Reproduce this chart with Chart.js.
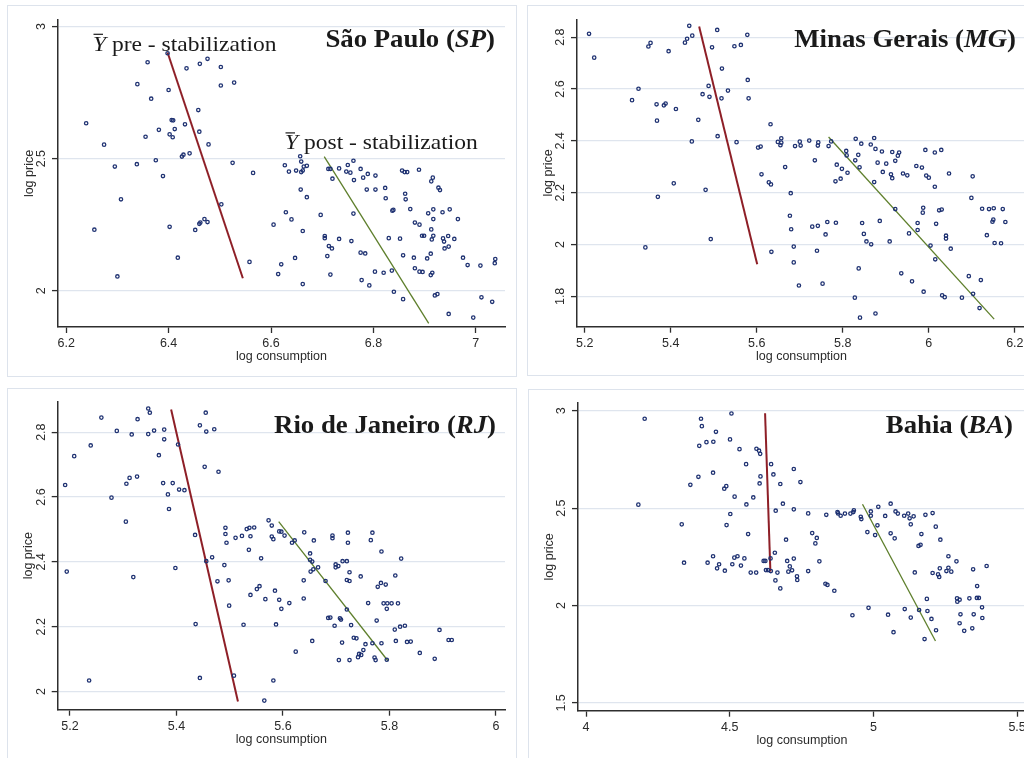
<!DOCTYPE html>
<html>
<head>
<meta charset="utf-8">
<script src="https://cdn.jsdelivr.net/npm/chart.js@4.4.1/dist/chart.umd.min.js"></script>
<style>
  body { margin: 0; background: #fff; width: 1024px; height: 758px; overflow: hidden; position: relative; }
  .box { position: absolute; border: 1px solid #dde3ec; box-sizing: border-box; }
  canvas { position: absolute; }
</style>
</head>
<body>
<div class="box" style="left:7px;top:5px;width:510px;height:372px"></div>
<div class="box" style="left:527px;top:5px;width:520px;height:371px"></div>
<div class="box" style="left:7px;top:388px;width:510px;height:400px"></div>
<div class="box" style="left:528px;top:389px;width:520px;height:400px"></div>
<script>
// ─── Data ─────────────────────────────────────────────────────────────────────

const spTicksX = [6.2, 6.4, 6.6, 6.8, 7];
const spTicksY = [2, 2.5, 3];
const mgTicksX = [5.2, 5.4, 5.6, 5.8, 6, 6.2];
const mgTicksY = [1.8, 2, 2.2, 2.4, 2.6, 2.8];
const rjTicksX = [5.2, 5.4, 5.6, 5.8, 6];
const rjTicksY = [2, 2.2, 2.4, 2.6, 2.8];
const baTicksX = [4, 4.5, 5, 5.5];
const baTicksY = [1.5, 2, 2.5, 3];

// mean fitted lines, pre / post stabilization
const spPre = [[6.398, 2.902], [6.545, 2.047]];
const spPost = [[6.704, 2.508], [6.908, 1.876]];
const mgPre = [[5.466, 2.841], [5.601, 1.924]];
const mgPost = [[5.767, 2.415], [6.152, 1.712]];
const rjPre = [[5.390, 2.870], [5.5155, 1.969]];
const rjPost = [[5.592, 2.524], [5.797, 2.095]];
const baPre = [[4.623, 2.987], [4.6415, 2.174]];
const baPost = [[4.962, 2.520], [5.216, 1.818]];

// [log consumption, log price]
const spPoints = [
  [6.239,2.634],[6.255,2.231],[6.274,2.553],[6.295,2.470],[6.307,2.346],[6.300,2.054],[6.339,2.782],[6.359,2.865],
  [6.366,2.727],[6.338,2.479],[6.355,2.583],[6.381,2.609],[6.375,2.494],[6.389,2.434],[6.398,2.899],[6.400,2.760],
  [6.402,2.592],[6.408,2.581],[6.406,2.646],[6.409,2.645],[6.412,2.612],[6.402,2.242],[6.418,2.125],[6.432,2.630],
  [6.426,2.508],[6.429,2.515],[6.441,2.520],[6.435,2.842],[6.452,2.230],[6.460,2.253],[6.462,2.258],[6.470,2.271],
  [6.476,2.260],[6.458,2.684],[6.460,2.602],[6.461,2.859],[6.476,2.878],[6.478,2.554],[6.502,2.847],[6.502,2.777],
  [6.503,2.327],[6.528,2.788],[6.525,2.484],[6.558,2.109],[6.565,2.446],[6.605,2.250],[6.620,2.100],[6.614,2.063],
  [6.629,2.297],[6.627,2.475],[6.635,2.451],[6.640,2.270],[6.647,2.124],[6.649,2.455],[6.657,2.509],[6.659,2.489],
  [6.659,2.449],[6.662,2.455],[6.658,2.383],[6.664,2.470],[6.670,2.473],[6.662,2.226],[6.670,2.354],[6.662,2.025],
  [6.697,2.287],[6.705,2.207],[6.705,2.199],[6.712,2.461],[6.716,2.461],[6.720,2.424],[6.710,2.131],[6.713,2.169],
  [6.719,2.160],[6.716,2.061],[6.733,2.196],[6.733,2.463],[6.747,2.451],[6.750,2.476],[6.755,2.447],[6.762,2.419],
  [6.761,2.492],[6.761,2.292],[6.757,2.188],[6.775,2.461],[6.780,2.428],[6.789,2.442],[6.787,2.383],[6.775,2.144],
  [6.784,2.141],[6.777,2.040],[6.792,2.020],[6.804,2.436],[6.804,2.383],[6.823,2.389],[6.824,2.350],[6.803,2.072],
  [6.820,2.068],[6.830,2.199],[6.837,2.303],[6.839,2.306],[6.836,2.076],[6.840,1.996],[6.852,2.197],[6.856,2.455],
  [6.861,2.449],[6.866,2.449],[6.862,2.367],[6.863,2.346],[6.872,2.309],[6.858,2.134],[6.858,1.968],[6.881,2.258],
  [6.890,2.250],[6.889,2.458],[6.879,2.125],[6.881,2.085],[6.890,2.072],[6.896,2.071],[6.895,2.208],[6.899,2.208],
  [6.905,2.122],[6.907,2.293],[6.913,2.414],[6.916,2.428],[6.917,2.308],[6.917,2.271],[6.913,2.232],[6.917,2.208],
  [6.914,2.194],[6.912,2.140],[6.915,2.068],[6.912,2.059],[6.920,1.982],[6.925,1.987],[6.927,2.390],[6.930,2.381],
  [6.935,2.297],[6.936,2.198],[6.938,2.186],[6.939,2.160],[6.946,2.207],[6.947,2.167],[6.949,2.308],[6.947,1.912],
  [6.958,2.196],[6.965,2.271],[6.975,2.125],[6.984,2.097],[6.995,1.898],[7.009,2.095],[7.011,1.975],[7.032,1.958],
  [7.038,2.120],[7.037,2.104]
];

const mgPoints = [
  [5.210,2.813],[5.222,2.721],[5.310,2.557],[5.325,2.601],[5.341,1.989],[5.348,2.764],[5.353,2.778],[5.367,2.541],
  [5.368,2.478],[5.370,2.184],[5.384,2.537],[5.388,2.544],[5.395,2.746],[5.407,2.236],[5.412,2.523],[5.433,2.779],
  [5.438,2.794],[5.443,2.844],[5.450,2.806],[5.449,2.398],[5.464,2.481],[5.474,2.580],[5.481,2.211],[5.488,2.612],
  [5.490,2.570],[5.493,2.021],[5.496,2.761],[5.508,2.828],[5.509,2.418],[5.518,2.564],[5.519,2.679],[5.533,2.594],
  [5.548,2.765],[5.553,2.395],[5.563,2.770],[5.578,2.809],[5.579,2.635],[5.581,2.564],[5.603,2.374],[5.609,2.378],
  [5.611,2.271],[5.628,2.240],[5.633,2.232],[5.632,2.464],[5.634,1.972],[5.649,2.396],[5.655,2.383],[5.657,2.393],
  [5.657,2.410],[5.666,2.299],[5.679,2.198],[5.677,2.111],[5.680,2.059],[5.686,1.992],[5.686,1.931],[5.689,2.380],
  [5.700,2.397],[5.702,2.382],[5.698,1.842],[5.722,2.401],[5.729,2.069],[5.735,2.325],[5.742,2.072],[5.742,2.382],
  [5.743,2.394],[5.740,1.976],[5.753,1.849],[5.760,2.039],[5.764,2.087],[5.767,2.380],[5.773,2.398],[5.783,2.244],
  [5.786,2.308],[5.795,2.254],[5.798,2.292],[5.808,2.361],[5.809,2.344],[5.811,2.277],[5.784,2.084],[5.829,2.325],
  [5.830,2.408],[5.828,1.795],[5.836,2.346],[5.837,1.908],[5.839,2.298],[5.840,1.718],[5.843,2.389],[5.845,2.083],
  [5.849,2.041],[5.855,2.012],[5.865,2.386],[5.866,2.001],[5.873,2.411],[5.876,2.369],[5.873,2.241],[5.876,1.734],
  [5.881,2.316],[5.886,2.091],[5.891,2.359],[5.893,2.280],[5.901,2.312],[5.909,2.012],[5.912,2.271],[5.915,2.357],
  [5.915,2.256],[5.922,2.137],[5.922,2.323],[5.928,2.343],[5.931,2.355],[5.936,1.889],[5.940,2.274],[5.950,2.267],
  [5.954,2.043],[5.961,1.858],[5.971,2.303],[5.974,2.083],[5.974,2.056],[5.984,2.297],[5.987,2.142],[5.986,2.123],
  [5.988,1.818],[5.992,2.365],[5.994,2.266],[6.000,2.258],[6.004,1.996],[6.014,2.355],[6.014,2.223],[6.015,1.943],
  [6.017,2.080],[6.024,2.132],[6.029,2.365],[6.030,2.135],[6.031,1.804],[6.037,1.797],[6.040,2.034],[6.040,2.023],
  [6.047,2.274],[6.051,1.984],[6.077,1.795],[6.093,1.878],[6.099,2.180],[6.102,2.263],[6.103,1.810],[6.118,1.755],
  [6.121,1.863],[6.124,2.138],[6.135,2.036],[6.140,2.137],[6.148,2.088],[6.150,2.096],[6.151,2.140],[6.153,2.006],
  [6.168,2.005],[6.172,2.137],[6.178,2.087]
];

const rjPoints = [
  [5.191,2.637],[5.194,2.370],[5.208,2.726],[5.236,2.034],[5.239,2.759],[5.259,2.845],[5.278,2.598],[5.288,2.804],
  [5.305,2.524],[5.306,2.641],[5.312,2.659],[5.316,2.793],[5.319,2.353],[5.326,2.663],[5.327,2.840],[5.347,2.794],
  [5.347,2.873],[5.350,2.860],[5.358,2.805],[5.367,2.729],[5.375,2.643],[5.377,2.808],[5.377,2.778],[5.384,2.608],
  [5.386,2.563],[5.393,2.643],[5.398,2.381],[5.403,2.762],[5.405,2.623],[5.415,2.621],[5.435,2.483],[5.436,2.208],
  [5.444,2.821],[5.444,2.042],[5.453,2.693],[5.455,2.860],[5.456,2.802],[5.456,2.402],[5.467,2.414],[5.471,2.809],
  [5.477,2.340],[5.479,2.678],[5.490,2.390],[5.492,2.505],[5.492,2.486],[5.494,2.459],[5.498,2.343],[5.499,2.265],
  [5.508,2.049],[5.511,2.474],[5.523,2.480],[5.526,2.206],[5.532,2.501],[5.536,2.437],[5.537,2.505],[5.539,2.479],
  [5.539,2.298],[5.546,2.506],[5.551,2.316],[5.556,2.325],[5.559,2.411],[5.565,1.972],[5.567,2.285],[5.573,2.528],
  [5.579,2.512],[5.579,2.478],[5.582,2.470],[5.582,2.034],[5.585,2.311],[5.587,2.207],[5.593,2.494],[5.597,2.493],
  [5.593,2.283],[5.597,2.255],[5.603,2.481],[5.612,2.273],[5.617,2.459],[5.622,2.466],[5.624,2.123],[5.640,2.491],
  [5.639,2.343],[5.639,2.287],[5.651,2.426],[5.651,2.406],[5.652,2.370],[5.655,2.401],[5.658,2.466],[5.657,2.377],
  [5.655,2.156],[5.666,2.383],[5.680,2.341],[5.685,2.227],[5.689,2.228],[5.693,2.481],[5.693,2.473],[5.697,2.203],
  [5.699,2.392],[5.699,2.383],[5.704,2.387],[5.705,2.097],[5.707,2.226],[5.709,2.222],[5.711,2.151],[5.712,2.402],
  [5.720,2.402],[5.720,2.344],[5.720,2.253],[5.722,2.490],[5.722,2.459],[5.725,2.341],[5.725,2.097],[5.725,2.368],
  [5.728,2.205],[5.733,2.166],[5.738,2.164],[5.741,2.106],[5.743,2.116],[5.746,2.355],[5.747,2.113],[5.751,2.128],
  [5.755,2.146],[5.760,2.273],[5.765,2.467],[5.768,2.490],[5.768,2.149],[5.772,2.105],[5.774,2.097],[5.776,2.219],
  [5.778,2.323],[5.784,2.335],[5.785,2.432],[5.785,2.149],[5.789,2.272],[5.793,2.330],[5.795,2.255],[5.795,2.098],
  [5.796,2.272],[5.804,2.272],[5.810,2.191],[5.811,2.358],[5.812,2.156],[5.816,2.272],[5.820,2.200],[5.822,2.410],
  [5.829,2.203],[5.833,2.153],[5.840,2.154],[5.857,2.119],[5.885,2.101],[5.894,2.190],[5.911,2.159],[5.917,2.159]
];

const baPoints = [
  [4.182,2.518],[4.204,2.959],[4.333,2.417],[4.341,2.220],[4.363,2.620],[4.391,2.661],[4.394,2.820],[4.400,2.959],
  [4.403,2.921],[4.419,2.839],[4.423,2.220],[4.442,2.253],[4.442,2.682],[4.443,2.841],[4.452,2.892],[4.456,2.191],
  [4.463,2.212],[4.483,2.179],[4.481,2.600],[4.488,2.613],[4.489,2.413],[4.501,2.853],[4.502,2.470],[4.506,2.986],
  [4.509,2.212],[4.517,2.559],[4.516,2.246],[4.527,2.253],[4.534,2.803],[4.539,2.205],[4.551,2.242],[4.557,2.726],
  [4.558,2.519],[4.564,2.367],[4.573,2.169],[4.582,2.555],[4.592,2.169],[4.593,2.805],[4.602,2.795],[4.606,2.779],
  [4.604,2.627],[4.607,2.663],[4.618,2.229],[4.624,2.229],[4.626,2.182],[4.633,2.182],[4.644,2.726],[4.642,2.242],
  [4.643,2.177],[4.652,2.673],[4.657,2.271],[4.659,2.129],[4.660,2.487],[4.666,2.169],[4.676,2.624],[4.676,2.088],
  [4.685,2.523],[4.696,2.338],[4.700,2.229],[4.704,2.174],[4.709,2.201],[4.717,2.181],[4.723,2.701],[4.723,2.494],
  [4.723,2.241],[4.734,2.150],[4.735,2.131],[4.746,2.634],[4.773,2.473],[4.773,2.177],[4.787,2.372],[4.798,2.319],
  [4.803,2.347],[4.812,2.227],[4.833,2.112],[4.840,2.106],[4.836,2.466],[4.864,2.076],[4.875,2.480],[4.877,2.473],
  [4.886,2.461],[4.901,2.472],[4.920,2.472],[4.927,1.950],[4.930,2.480],[4.932,2.489],[4.956,2.456],[4.958,2.444],
  [4.979,2.377],[4.983,1.988],[4.991,2.461],[4.991,2.483],[5.006,2.362],[5.014,2.412],[5.017,2.507],[5.041,2.460],
  [5.051,1.953],[5.060,2.523],[5.060,2.371],[5.070,1.863],[5.074,2.345],[5.077,2.483],[5.085,2.472],[5.107,2.461],
  [5.109,1.982],[5.121,2.472],[5.126,2.448],[5.130,2.417],[5.130,1.938],[5.140,2.458],[5.144,2.170],[5.157,2.306],
  [5.164,2.312],[5.159,1.977],[5.167,2.367],[5.178,1.828],[5.181,2.466],[5.186,2.034],[5.188,1.972],[5.202,1.931],
  [5.206,2.167],[5.206,2.475],[5.217,2.405],[5.218,1.873],[5.225,2.160],[5.229,2.147],[5.231,2.191],[5.233,2.338],
  [5.254,2.177],[5.261,2.253],[5.261,2.194],[5.271,2.174],[5.289,2.227],[5.291,2.037],[5.292,2.020],[5.300,2.030],
  [5.300,1.909],[5.303,1.955],[5.316,1.870],[5.334,2.037],[5.344,1.883],[5.347,2.186],[5.349,1.955],[5.361,2.100],
  [5.360,2.039],[5.367,2.039],[5.378,1.991],[5.379,1.936],[5.394,2.203]
];

// ─── Style ────────────────────────────────────────────────────────────────────

const NAVY = '#1f3272';
const RED = '#8e1f27';
const GREEN = '#5e7f2c';
const AXIS = '#2e2e2e';
const GRID = '#dfe5ee';
const INK = '#1a1a1a';
const SANS = '"Liberation Sans", Arial, sans-serif';
const SERIF = '"Liberation Serif", "Times New Roman", serif';

// page coordinates: canvas [left, top, w, h], plot area [left, top, right, bottom]
const panels = [
  { canvas: [7, 5, 509, 371], area: [58, 20, 505, 327], x: [6.184, 7.057], y: [1.8625, 3.025],
    ticksX: spTicksX, ticksY: spTicksY, points: spPoints, pre: spPre, post: spPost,
    title: ['São Paulo (', 'SP', ')'], titleAt: [495, 46.5],
    notes: [{ text: ' pre - stabilization', at: [93, 50.7] }, { text: ' post - stabilization', at: [285, 149.3] }] },
  { canvas: [527, 5, 507, 371], area: [577, 19.3, 1026, 326.7], x: [5.182, 6.226], y: [1.683, 2.869],
    ticksX: mgTicksX, ticksY: mgTicksY, points: mgPoints, pre: mgPre, post: mgPost,
    title: ['Minas Gerais (', 'MG', ')'], titleAt: [1016, 46.5], notes: [] },
  { canvas: [7, 388, 509, 370], area: [57.7, 401.7, 505, 709.7], x: [5.177, 6.017], y: [1.944, 2.894],
    ticksX: rjTicksX, ticksY: rjTicksY, points: rjPoints, pre: rjPre, post: rjPost,
    title: ['Rio de Janeiro (', 'RJ', ')'], titleAt: [496, 433], notes: [] },
  { canvas: [528, 389, 506, 369], area: [578, 403, 1026, 710.7], x: [3.972, 5.531], y: [1.46, 3.04],
    ticksX: baTicksX, ticksY: baTicksY, points: baPoints, pre: baPre, post: baPost,
    title: ['Bahia (', 'BA', ')'], titleAt: [1013, 433], notes: [] },
];

// ─── Text drawing ─────────────────────────────────────────────────────────────

const drawRuns = (ctx, runs, x, y, align, stretch) => {
  ctx.save();
  let total = 0;
  runs.forEach(([t, f]) => { ctx.font = f; total += ctx.measureText(t).width; });
  ctx.translate(x, y);
  ctx.scale(stretch, 1);
  ctx.textAlign = 'left';
  ctx.textBaseline = 'alphabetic';
  ctx.fillStyle = INK;
  let cx = align === 'right' ? -total : 0;
  runs.forEach(([t, f]) => { ctx.font = f; ctx.fillText(t, cx, 0); cx += ctx.measureText(t).width; });
  ctx.restore();
};

const textPlugin = (p) => ({
  id: 'panelText',
  afterDraw(chart) {
    const { ctx } = chart;
    const ox = p.canvas[0], oy = p.canvas[1];
    const ys = chart.scales.y;

    // rotated y tick labels
    ctx.save();
    ctx.font = `12.5px ${SANS}`;
    ctx.fillStyle = '#2a2a2a';
    ctx.textAlign = 'center';
    ctx.textBaseline = 'middle';
    ys.ticks.forEach((t) => {
      ctx.save();
      ctx.translate(ys.right - 16, ys.getPixelForValue(t.value));
      ctx.rotate(-Math.PI / 2);
      ctx.fillText(String(t.value), 0, 0);
      ctx.restore();
    });
    ctx.restore();

    // panel title
    const bold = `bold 26px ${SERIF}`;
    const boldIt = `italic bold 26px ${SERIF}`;
    drawRuns(ctx, [[p.title[0], bold], [p.title[1], boldIt], [p.title[2], bold]],
      p.titleAt[0] - ox, p.titleAt[1] - oy, 'right', 1.03);

    // Y-bar annotations
    p.notes.forEach((n) => {
      const x = n.at[0] - ox, y = n.at[1] - oy;
      drawRuns(ctx, [['Y', `italic 21px ${SERIF}`], [n.text, `21px ${SERIF}`]], x, y, 'left', 1.12);
      ctx.save();
      ctx.strokeStyle = INK;
      ctx.lineWidth = 1.2;
      ctx.beginPath();
      ctx.moveTo(x + 0.5, y - 16.4);
      ctx.lineTo(x + 10, y - 16.4);
      ctx.stroke();
      ctx.restore();
    });
  },
});

// ─── Charts ───────────────────────────────────────────────────────────────────

const toXY = (pairs) => pairs.map(([x, y]) => ({ x, y }));

const makeChart = (p) => {
  const cv = document.createElement('canvas');
  cv.width = p.canvas[2];
  cv.height = p.canvas[3];
  cv.style.left = p.canvas[0] + 'px';
  cv.style.top = p.canvas[1] + 'px';
  document.body.appendChild(cv);

  const aL = p.area[0] - p.canvas[0];
  const aT = p.area[1] - p.canvas[1];
  const aR = p.area[2] - p.canvas[0];
  const aB = p.area[3] - p.canvas[1];
  const xH = p.canvas[3] - aB;
  const labelFont = { family: SANS, size: 12.5 };

  new Chart(cv, {
    type: 'scatter',
    data: {
      datasets: [
        { data: toXY(p.points), pointRadius: 1.7, pointBorderWidth: 1.3,
          pointBorderColor: NAVY, pointBackgroundColor: 'rgba(0,0,0,0)' },
        { data: toXY(p.pre), showLine: true, pointRadius: 0, borderColor: RED, borderWidth: 2 },
        { data: toXY(p.post), showLine: true, pointRadius: 0, borderColor: GREEN, borderWidth: 1.3 },
      ],
    },
    options: {
      responsive: false,
      animation: false,
      events: [],
      layout: { padding: { left: 0, top: aT, right: p.canvas[2] - aR, bottom: 0 } },
      plugins: { legend: { display: false }, tooltip: { enabled: false } },
      scales: {
        x: {
          type: 'linear', min: p.x[0], max: p.x[1],
          afterBuildTicks: (s) => { s.ticks = p.ticksX.map((v) => ({ value: v })); },
          afterFit: (s) => { s.height = xH; s.paddingLeft = 0; s.paddingRight = 0; },
          grid: { drawOnChartArea: false, tickLength: 6, tickColor: AXIS, tickWidth: 1.3 },
          border: { color: AXIS, width: 1.5 },
          ticks: { font: labelFont, color: '#2a2a2a', padding: 3, maxRotation: 0, autoSkip: false,
            callback: (v) => String(v) },
          title: { display: true, text: 'log consumption', font: labelFont, color: '#2a2a2a',
            padding: { top: 0, bottom: p.canvas[3] - (aB + 29.5) - 7.5 } },
        },
        y: {
          type: 'linear', min: p.y[0], max: p.y[1],
          afterBuildTicks: (s) => { s.ticks = p.ticksY.map((v) => ({ value: v })); },
          afterFit: (s) => { s.width = aL; s.paddingTop = 0; s.paddingBottom = 0; },
          grid: { color: GRID, lineWidth: 1.2, tickLength: 6, tickColor: AXIS, tickWidth: 1.3 },
          border: { color: AXIS, width: 1.5 },
          ticks: { display: false },
          title: { display: true, text: 'log price', font: labelFont, color: '#2a2a2a',
            padding: { top: aL - 28.8 - 7.5, bottom: 0 } },
        },
      },
    },
    plugins: [textPlugin(p)],
  });
};

panels.forEach(makeChart);
</script>
</body>
</html>
